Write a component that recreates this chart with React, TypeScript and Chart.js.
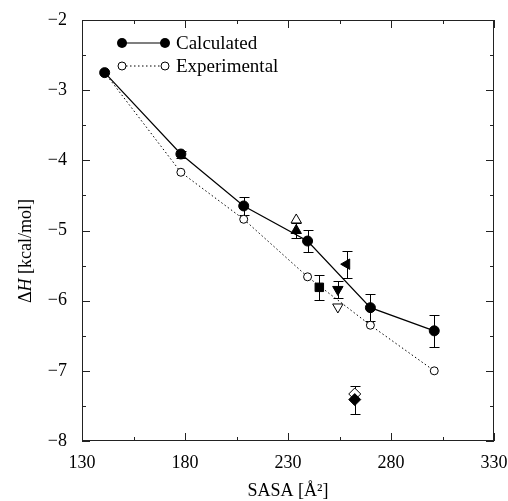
import React, { useEffect, useRef } from "react";
import { Chart, registerables } from "chart.js";

Chart.register(...registerables);

// ---- data ----
const sasaMain = [141, 178, 208.5, 239.5, 270, 301];
const dhCalculated = [-2.75, -3.91, -4.65, -5.15, -6.1, -6.43];
const errCalculated = [0, 0.05, 0.13, 0.16, 0.19, 0.23];
const dhExperimental = [-2.75, -4.17, -4.84, -5.66, -6.35, -7.0];

const extraSasa = [234, 245.2, 254.2, 258.5, 262.4];
const extraCalculated = [-5.0, -5.81, -5.84, -5.48, -7.41];
const extraErr = [0.1, 0.18, 0.12, 0.19, 0.2];
const extraExperimental: (number | null)[] = [-4.85, null, -6.09, null, -7.33];
const extraStyles = ["triangle", "rect", "triangle", "triangle", "rectRot"];
const extraRotation = [0, 0, 180, -90, 0];
const extraRadius = [6, 6, 6, 6, 6];

const xMajorTicks = [130, 180, 230, 280, 330];
const xMinorTicks = [155, 205, 255, 305];
const yMajorTicks = [-2, -3, -4, -5, -6, -7, -8];
const yMinorTicks = [-2.5, -3.5, -4.5, -5.5, -6.5, -7.5];

const legendLabels = ["Calculated", "Experimental"];

const FONT = "'Liberation Serif', 'Times New Roman', serif";

const framePlugin = {
  id: "frameTicks",
  beforeDatasetsDraw(chart: any) {
    const { ctx, chartArea: a, scales } = chart;
    const xs = scales.x;
    const ys = scales.y;
    ctx.save();
    ctx.strokeStyle = "#222";
    ctx.lineWidth = 1;
    ctx.strokeRect(a.left + 0.5, a.top + 0.5, a.right - a.left - 1, a.bottom - a.top - 1);
    const drawX = (vals: number[], len: number) => {
      vals.forEach((v) => {
        const px = Math.round(xs.getPixelForValue(v)) + 0.5;
        ctx.beginPath();
        ctx.moveTo(px, a.bottom);
        ctx.lineTo(px, a.bottom - len);
        ctx.moveTo(px, a.top);
        ctx.lineTo(px, a.top + len);
        ctx.stroke();
      });
    };
    const drawY = (vals: number[], len: number) => {
      vals.forEach((v) => {
        const py = Math.round(ys.getPixelForValue(v)) + 0.5;
        ctx.beginPath();
        ctx.moveTo(a.left, py);
        ctx.lineTo(a.left + len, py);
        ctx.moveTo(a.right, py);
        ctx.lineTo(a.right - len, py);
        ctx.stroke();
      });
    };
    drawX(xMajorTicks, 8);
    drawX(xMinorTicks, 4);
    drawY(yMajorTicks, 8);
    drawY(yMinorTicks, 4);

    // error bars
    ctx.strokeStyle = "#000";
    chart.data.datasets.forEach((ds: any) => {
      if (!ds.errors) return;
      ds.data.forEach((pt: any, j: number) => {
        const e = ds.errors[j];
        if (!e || pt == null || pt.y == null) return;
        const px = Math.round(xs.getPixelForValue(pt.x)) + 0.5;
        const yt = Math.round(ys.getPixelForValue(pt.y + e)) + 0.5;
        const yb = Math.round(ys.getPixelForValue(pt.y - e)) + 0.5;
        ctx.beginPath();
        ctx.moveTo(px, yt);
        ctx.lineTo(px, yb);
        ctx.moveTo(px - 5, yt);
        ctx.lineTo(px + 5, yt);
        ctx.moveTo(px - 5, yb);
        ctx.lineTo(px + 5, yb);
        ctx.stroke();
      });
    });
    ctx.restore();
  },
  afterDraw(chart: any) {
    const { ctx } = chart;
    ctx.save();
    ctx.fillStyle = "#000";
    ctx.strokeStyle = "#000";
    // legend
    const lx1 = 122;
    const lx2 = 165;
    const rows = [43, 66];
    // calculated
    ctx.lineWidth = 1.2;
    ctx.beginPath();
    ctx.moveTo(lx1, rows[0]);
    ctx.lineTo(lx2, rows[0]);
    ctx.stroke();
    [lx1, lx2].forEach((x) => {
      ctx.beginPath();
      ctx.arc(x, rows[0], 5, 0, Math.PI * 2);
      ctx.fill();
    });
    // experimental
    ctx.lineWidth = 1;
    ctx.setLineDash([1.5, 2.5]);
    ctx.beginPath();
    ctx.moveTo(lx1, rows[1]);
    ctx.lineTo(lx2, rows[1]);
    ctx.stroke();
    ctx.setLineDash([]);
    [lx1, lx2].forEach((x) => {
      ctx.beginPath();
      ctx.arc(x, rows[1], 4, 0, Math.PI * 2);
      ctx.fillStyle = "#fff";
      ctx.fill();
      ctx.stroke();
    });
    ctx.fillStyle = "#000";
    ctx.font = `19px ${FONT}`;
    ctx.textBaseline = "middle";
    ctx.textAlign = "left";
    ctx.fillText(legendLabels[0], 176, rows[0] + 1);
    ctx.fillText(legendLabels[1], 176, rows[1] + 1);

    // x title
    ctx.font = `18px ${FONT}`;
    ctx.textAlign = "center";
    ctx.fillText("SASA [Å²]", 288, 491);

    // y title with italic H
    ctx.translate(26, 251);
    ctx.rotate(-Math.PI / 2);
    const parts = [
      { t: "Δ", f: `18px ${FONT}` },
      { t: "H", f: `italic 18px ${FONT}` },
      { t: " [kcal/mol]", f: `18px ${FONT}` },
    ];
    let total = 0;
    parts.forEach((p) => {
      ctx.font = p.f;
      total += ctx.measureText(p.t).width;
    });
    let cx = -total / 2;
    ctx.textAlign = "left";
    parts.forEach((p) => {
      ctx.font = p.f;
      ctx.fillText(p.t, cx, 0);
      cx += ctx.measureText(p.t).width;
    });
    ctx.restore();
  },
};

export default function App() {
  const ref = useRef<HTMLCanvasElement | null>(null);

  useEffect(() => {
    document.body.style.margin = "0";
    const canvas = ref.current;
    if (!canvas) return;

    const datasets: any[] = [
      {
        label: legendLabels[0],
        data: sasaMain.map((x, i) => ({ x, y: dhCalculated[i] })),
        errors: errCalculated,
        showLine: true,
        borderColor: "#000",
        borderWidth: 1.2,
        pointRadius: 5,
        pointBackgroundColor: "#000",
        pointBorderColor: "#000",
        pointBorderWidth: 1,
        order: 0,
      },
      {
        label: legendLabels[1],
        data: sasaMain.map((x, i) => ({ x, y: dhExperimental[i] })),
        showLine: true,
        borderColor: "#000",
        borderWidth: 1,
        borderDash: [1.5, 2.5],
        pointRadius: 4,
        pointBackgroundColor: "#fff",
        pointBorderColor: "#000",
        pointBorderWidth: 1,
        order: 1,
      },
    ];

    extraSasa.forEach((x, i) => {
      datasets.push({
        label: "calc-" + i,
        data: [{ x, y: extraCalculated[i] }],
        errors: [extraErr[i]],
        showLine: false,
        pointStyle: extraStyles[i],
        rotation: extraRotation[i],
        pointRadius: extraRadius[i],
        pointBackgroundColor: "#000",
        pointBorderColor: "#000",
        pointBorderWidth: 1,
        order: 2,
      });
      if (extraExperimental[i] != null) {
        datasets.push({
          label: "exp-" + i,
          data: [{ x, y: extraExperimental[i] }],
          showLine: false,
          pointStyle: extraStyles[i],
          rotation: extraRotation[i],
          pointRadius: extraRadius[i],
          pointBackgroundColor: "#fff",
          pointBorderColor: "#000",
          pointBorderWidth: 1,
          order: 3,
        });
      }
    });

    const chart = new Chart(canvas, {
      type: "scatter",
      data: { datasets },
      options: {
        animation: false,
        responsive: false,
        devicePixelRatio: 1,
        layout: { padding: { left: 0, right: 14, top: 20, bottom: 0 } },
        plugins: { legend: { display: false }, tooltip: { enabled: false } },
        scales: {
          x: {
            type: "linear",
            min: 130,
            max: 330,
            ticks: {
              stepSize: 50,
              color: "#000",
              padding: 11,
              maxRotation: 0,
              font: { family: FONT, size: 18 },
              callback: (v: any) => String(v),
            },
            grid: { display: false, drawTicks: false },
            border: { display: false },
            afterFit: (s: any) => {
              s.height = 60;
              s.paddingLeft = 0;
              s.paddingRight = 0;
            },
          },
          y: {
            type: "linear",
            min: -8,
            max: -2,
            ticks: {
              stepSize: 1,
              color: "#000",
              padding: 15,
              font: { family: FONT, size: 18 },
              callback: (v: any) => (v < 0 ? "\u2212" + Math.abs(v) : String(v)),
            },
            grid: { display: false, drawTicks: false },
            border: { display: false },
            afterFit: (s: any) => {
              s.width = 82;
              s.paddingTop = 0;
              s.paddingBottom = 0;
            },
          },
        },
      } as any,
      plugins: [framePlugin],
    });

    return () => chart.destroy();
  }, []);

  return (
    <div style={{ position: "absolute", left: 0, top: 0, width: 508, height: 501, background: "#fff" }}>
      <canvas ref={ref} width={508} height={501} />
    </div>
  );
}
